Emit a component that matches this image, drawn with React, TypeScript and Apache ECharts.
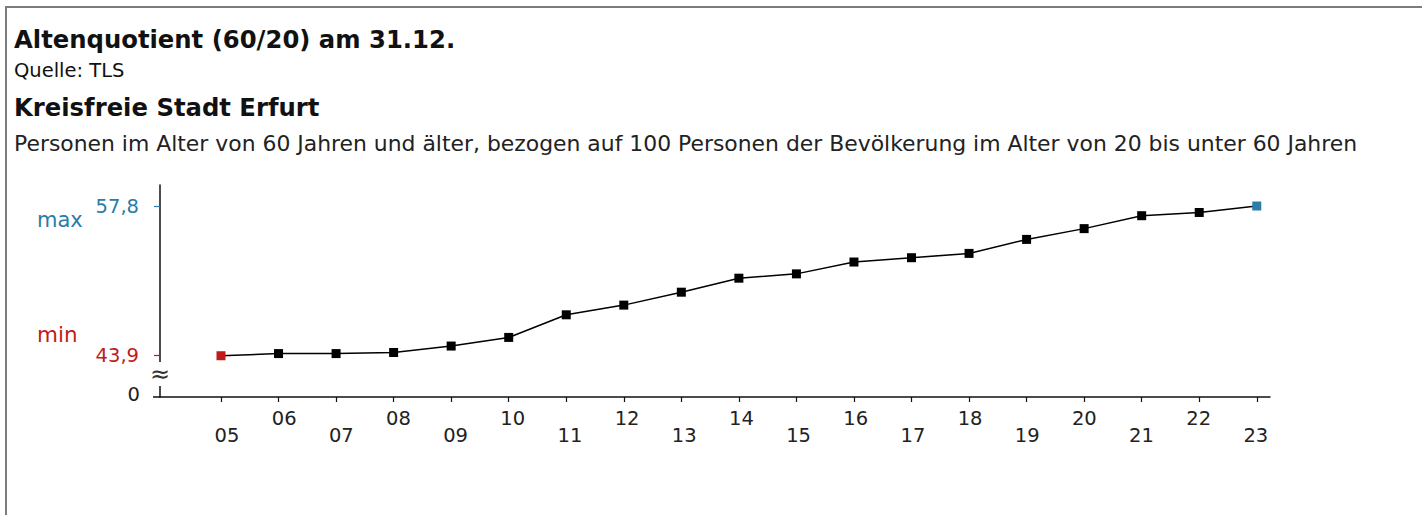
import React, { useEffect, useRef } from "react";
import * as echarts from "echarts";

const categories = ["05", "06", "07", "08", "09", "10", "11", "12", "13", "14", "15", "16", "17", "18", "19", "20", "21", "22", "23"];
const values = [43.9, 44.1, 44.1, 44.2, 44.8, 45.6, 47.7, 48.6, 49.8, 51.1, 51.5, 52.6, 53.0, 53.4, 54.7, 55.7, 56.9, 57.2, 57.8];
const titleText = "Altenquotient (60/20) am 31.12.";
const sourceText = "Quelle: TLS";
const regionText = "Kreisfreie Stadt Erfurt";
const descText = "Personen im Alter von 60 Jahren und älter, bezogen auf 100 Personen der Bevölkerung im Alter von 20 bis unter 60 Jahren";
const maxLabel = "max";
const minLabel = "min";
const zeroLabel = "0";

const BLUE = "#2b7ca6";
const RED = "#c21a1a";
const TEXT = "#222";
const TITLE_FONT = "'DejaVu Sans', sans-serif";
const TICK_FONT = "'DejaVu Sans', Verdana, sans-serif";
const TICK_SIZE = 19.5;

const Y_MIN = 40.07;
const Y_MAX = 59.75;
const X_MIN = -1.06;
const X_MAX = 18.23;
const XL_MIN = -1.172;
const XL_MAX = 18.248;

const fmt = (v: number) => v.toFixed(1).replace(".", ",");

export default function App() {
  const ref = useRef<HTMLDivElement>(null);
  useEffect(() => {
    if (!ref.current) return;
    const chart = echarts.init(ref.current, null, { renderer: "svg" });
    const maxV = Math.max(...values);
    const minV = Math.min(...values);
    const idx = categories.map((_, i) => i);
    const even = idx.filter((i) => i % 2 === 0);
    const odd = idx.filter((i) => i % 2 === 1);
    const data = values.map((v, i) => {
      const item: any = { value: [i, v] };
      if (i === values.indexOf(minV)) item.itemStyle = { color: RED };
      if (i === values.lastIndexOf(maxV)) item.itemStyle = { color: BLUE };
      return item;
    });
    const labelAxis = (vals: number[], margin: number) => ({
      type: "value",
      gridIndex: 0,
      position: "bottom",
      offset: 0,
      min: XL_MIN,
      max: XL_MAX,
      axisLine: { show: false, onZero: false },
      axisTick: { show: false },
      splitLine: { show: false },
      axisLabel: {
        customValues: vals,
        margin,
        fontFamily: TICK_FONT,
        fontSize: TICK_SIZE,
        color: TEXT,
        formatter: (v: number) => categories[Math.round(v)] ?? "",
      },
    });
    const yBase = {
      type: "value",
      position: "left",
      offset: 0,
      min: Y_MIN,
      max: Y_MAX,
      splitLine: { show: false },
    };
    chart.setOption({
      animation: false,
      backgroundColor: "#fff",
      grid: { left: 160, right: 152, top: 185, bottom: 118, containLabel: false },
      xAxis: [
        {
          type: "value",
          min: X_MIN,
          max: X_MAX,
          position: "bottom",
          offset: 0,
          axisLine: { show: true, onZero: false, lineStyle: { color: "#111", width: 1.5 } },
          axisTick: { show: true, customValues: idx, length: 5, lineStyle: { color: "#111", width: 1.2 } },
          axisLabel: { show: false },
          splitLine: { show: false },
        },
        labelAxis(even, 28),
        labelAxis(odd, 11),
      ],
      yAxis: [
        {
          ...yBase,
          axisLine: { show: true, onZero: false, lineStyle: { color: "#111", width: 1.5 } },
          axisTick: { show: true, customValues: [maxV], length: 6, lineStyle: { color: BLUE, width: 1.2 } },
          axisLabel: { customValues: [maxV], color: BLUE, margin: 21, fontFamily: TICK_FONT, fontSize: TICK_SIZE, formatter: fmt },
        },
        {
          ...yBase,
          axisLine: { show: false, onZero: false },
          axisTick: { show: true, customValues: [minV], length: 6, lineStyle: { color: RED, width: 1.2 } },
          axisLabel: { customValues: [minV], color: RED, margin: 21, fontFamily: TICK_FONT, fontSize: TICK_SIZE, formatter: fmt },
        },
        {
          ...yBase,
          axisLine: { show: false, onZero: false },
          axisTick: { show: true, customValues: [Y_MIN], length: 7, lineStyle: { color: "#111", width: 1.5 } },
          axisLabel: {
            customValues: [Y_MIN],
            color: TEXT,
            margin: 20,
            fontFamily: TICK_FONT,
            fontSize: TICK_SIZE,
            verticalAlign: "bottom",
            lineHeight: 6,
            formatter: () => zeroLabel,
          },
        },
      ],
      series: [
        {
          type: "line",
          xAxisIndex: 0,
          yAxisIndex: 0,
          data,
          symbol: "rect",
          symbolSize: 9,
          lineStyle: { color: "#000", width: 1.5 },
          itemStyle: { color: "#000" },
          z: 5,
        },
      ],
      graphic: [
        { type: "line", z: 100, shape: { x1: 6, y1: 6, x2: 6, y2: 515 }, style: { stroke: "#7d7d7d", lineWidth: 2 } },
        { type: "line", z: 100, shape: { x1: 5, y1: 7, x2: 1422, y2: 7 }, style: { stroke: "#7d7d7d", lineWidth: 2 } },
        { type: "text", z: 100, x: 14, y: 39, style: { text: titleText, font: `bold 24.3px ${TITLE_FONT}`, fill: "#111", verticalAlign: "middle" } },
        { type: "text", z: 100, x: 14, y: 70, style: { text: sourceText, font: `19.5px ${TITLE_FONT}`, fill: "#111", verticalAlign: "middle" } },
        { type: "text", z: 100, x: 14, y: 107, style: { text: regionText, font: `bold 24.3px ${TITLE_FONT}`, fill: "#111", verticalAlign: "middle" } },
        { type: "text", z: 100, x: 14, y: 143, style: { text: descText, font: `21.9px ${TITLE_FONT}`, fill: "#222", verticalAlign: "middle" } },
        { type: "text", z: 100, x: 37, y: 220, style: { text: maxLabel, font: `21px ${TICK_FONT}`, fill: BLUE, verticalAlign: "middle" } },
        { type: "text", z: 100, x: 37, y: 334, style: { text: minLabel, font: `21.5px ${TICK_FONT}`, fill: RED, verticalAlign: "middle" } },
        { type: "rect", z: 100, shape: { x: 150, y: 362, width: 20, height: 24 }, style: { fill: "#fff" } },
        { type: "text", z: 101, x: 160, y: 374, style: { text: "≈", font: `24px ${TICK_FONT}`, fill: "#333", align: "center", verticalAlign: "middle" } },
      ],
    });
    return () => chart.dispose();
  }, []);
  return <div ref={ref} style={{ position: "fixed", left: 0, top: 0, width: 1422, height: 515 }} />;
}
